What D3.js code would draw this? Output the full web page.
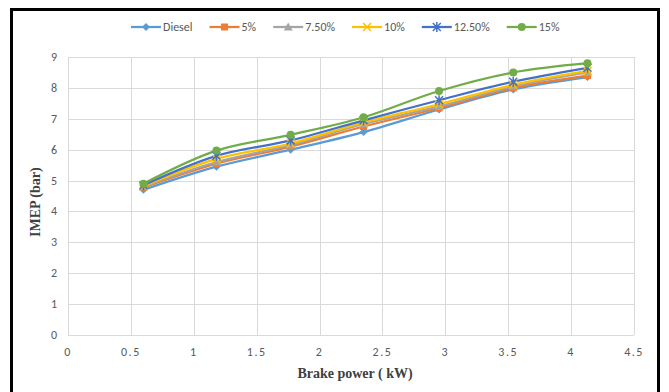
<!DOCTYPE html>
<html>
<head>
<meta charset="utf-8">
<script src="https://cdn.jsdelivr.net/npm/d3@7"></script>
<style>
  body { margin: 0; background: #fff; }
  text { font-family: Calibri, Carlito, "Liberation Sans", Arial, sans-serif; }
</style>
</head>
<body>
<div id="chart"></div>
<script>
"use strict";

// brake power (kW)
var power = [0.6, 1.18, 1.77, 2.35, 2.95, 3.54, 4.13];

var seriesNames = ["Diesel", "5%", "7.50%", "10%", "12.50%", "15%"];
var diesel   = [4.70, 5.45, 6.00, 6.57, 7.30, 7.95, 8.35];
var blend5   = [4.78, 5.55, 6.10, 6.75, 7.35, 8.00, 8.40];
var blend75  = [4.80, 5.60, 6.15, 6.83, 7.40, 8.05, 8.50];
var blend10  = [4.82, 5.70, 6.20, 6.88, 7.47, 8.10, 8.55];
var blend125 = [4.85, 5.80, 6.30, 6.95, 7.60, 8.20, 8.65];
var blend15  = [4.90, 5.97, 6.48, 7.05, 7.90, 8.50, 8.80];

var xTicks = [0, 0.5, 1, 1.5, 2, 2.5, 3, 3.5, 4, 4.5];
var yTicks = [0, 1, 2, 3, 4, 5, 6, 7, 8, 9];

var colors = ["#5B9BD5", "#ED7D31", "#A5A5A5", "#FFC000", "#4472C4", "#70AD47"];
var markers = ["diamond", "square", "triangle", "cross", "star", "circle"];

var series = [diesel, blend5, blend75, blend10, blend125, blend15].map(function(vals, i) {
  return {
    name: seriesNames[i],
    color: colors[i],
    marker: markers[i],
    values: vals.map(function(v, j) { return { x: power[j], y: v }; })
  };
});

var width = 669, height = 392;
var margin = { top: 57, right: 35, bottom: 57, left: 68 };

var svg = d3.select("#chart").append("svg")
  .attr("width", width)
  .attr("height", height);

// outer black frame
svg.append("rect")
  .attr("x", 11.5).attr("y", 9.5)
  .attr("width", 647).attr("height", 400)
  .attr("fill", "#fff")
  .attr("stroke", "#000")
  .attr("stroke-width", 3);

var x = d3.scaleLinear().domain([0, 4.5]).range([margin.left, width - margin.right]);
var y = d3.scaleLinear().domain([0, 9]).range([height - margin.bottom, margin.top]);

// grid
svg.append("g").selectAll("line.h")
  .data(yTicks).enter().append("line")
  .attr("x1", x(0)).attr("x2", x(4.5))
  .attr("y1", function(d) { return Math.round(y(d)) + 0.5; })
  .attr("y2", function(d) { return Math.round(y(d)) + 0.5; })
  .attr("stroke", "#d9d9d9").attr("stroke-width", 1);

svg.append("g").selectAll("line.v")
  .data(xTicks).enter().append("line")
  .attr("y1", y(0)).attr("y2", y(9))
  .attr("x1", function(d) { return Math.round(x(d)) + 0.5; })
  .attr("x2", function(d) { return Math.round(x(d)) + 0.5; })
  .attr("stroke", "#d9d9d9").attr("stroke-width", 1);

// tick labels
svg.append("g").selectAll("text")
  .data(xTicks).enter().append("text")
  .attr("x", function(d) { return x(d); })
  .attr("y", y(0) + 21)
  .attr("text-anchor", "middle")
  .attr("font-size", 12)
  .attr("letter-spacing", "1.5px")
  .attr("fill", "#595959")
  .text(function(d) { return d; });

svg.append("g").selectAll("text")
  .data(yTicks).enter().append("text")
  .attr("x", x(0) - 11)
  .attr("y", function(d) { return y(d) + 4; })
  .attr("text-anchor", "end")
  .attr("font-size", 12)
  .attr("fill", "#595959")
  .text(function(d) { return d; });

// axis titles
svg.append("text")
  .attr("x", 355).attr("y", 378)
  .attr("text-anchor", "middle")
  .attr("font-weight", "bold")
  .attr("font-size", 14)
  .attr("fill", "#404040")
  .style("font-family", "'Liberation Serif', serif")
  .text("Brake power  ( kW)");

svg.append("text")
  .attr("transform", "translate(40," + y(4.3) + ") rotate(-90)")
  .attr("text-anchor", "middle")
  .attr("font-weight", "bold")
  .attr("font-size", 14)
  .attr("fill", "#404040")
  .style("font-family", "'Liberation Serif', serif")
  .text("IMEP  (bar)");

var line = d3.line()
  .x(function(d) { return x(d.x); })
  .y(function(d) { return y(d.y); })
  .curve(d3.curveCatmullRom.alpha(0.5));

function drawMarker(g, type, color) {
  if (type === "diamond") {
    g.append("path").attr("d", "M0,-4L4,0L0,4L-4,0Z").attr("fill", color);
  } else if (type === "square") {
    g.append("rect").attr("x", -3.5).attr("y", -3.5).attr("width", 7).attr("height", 7).attr("fill", color);
  } else if (type === "triangle") {
    g.append("path").attr("d", "M0,-4.5L4.5,3.5L-4.5,3.5Z").attr("fill", color);
  } else if (type === "cross") {
    g.append("path").attr("d", "M-4,-4L4,4M4,-4L-4,4").attr("stroke", color).attr("stroke-width", 1.5).attr("fill", "none");
  } else if (type === "star") {
    g.append("path").attr("d", "M-4,-4L4,4M4,-4L-4,4M0,-5L0,5").attr("stroke", color).attr("stroke-width", 1.5).attr("fill", "none");
  } else {
    g.append("circle").attr("r", 4).attr("fill", color);
  }
}

var plot = svg.append("g");
series.forEach(function(s) {
  plot.append("path")
    .datum(s.values)
    .attr("d", line)
    .attr("fill", "none")
    .attr("stroke", s.color)
    .attr("stroke-width", 2.25);
});
series.forEach(function(s) {
  s.values.forEach(function(d) {
    var g = plot.append("g").attr("transform", "translate(" + x(d.x) + "," + y(d.y) + ")");
    drawMarker(g, s.marker, s.color);
  });
});

// legend
var legend = svg.append("g");
var lx = 131, ly = 27;
series.forEach(function(s) {
  var item = legend.append("g").attr("transform", "translate(" + lx + "," + ly + ")");
  item.append("line").attr("x1", 0).attr("x2", 30).attr("y1", 0).attr("y2", 0)
    .attr("stroke", s.color).attr("stroke-width", 2.25);
  var mg = item.append("g").attr("transform", "translate(15,0)");
  drawMarker(mg, s.marker, s.color);
  var t = item.append("text").attr("x", 32).attr("y", 4)
    .attr("font-size", 12).attr("fill", "#595959").text(s.name);
  lx += 32 + t.node().getComputedTextLength() + 17;
});
</script>
</body>
</html>
